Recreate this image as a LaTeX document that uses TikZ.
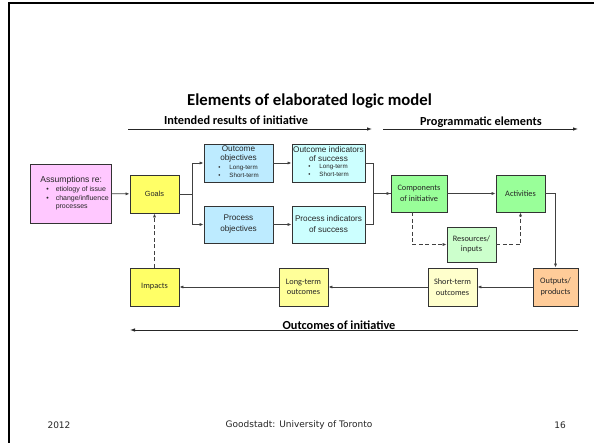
\documentclass[tikz,border=0pt]{standalone}
\usepackage{fontspec}
\newfontfamily\arial{Liberation Sans}
\newfontfamily\calibri{Carlito}
\newfontfamily\verdana{DejaVu Sans}
\usetikzlibrary{arrows.meta}
\definecolor{cpink}{HTML}{FFC8FF}
\definecolor{cyel}{HTML}{FFFF66}
\definecolor{cblue}{HTML}{BDEBFF}
\definecolor{ccyan}{HTML}{CCFFFF}
\definecolor{cgreen}{HTML}{99FF99}
\definecolor{clgreen}{HTML}{CCFFCC}
\definecolor{corange}{HTML}{FFCC99}
\definecolor{clyel}{HTML}{FFFFCC}
\definecolor{cmyel}{HTML}{FFFF99}
\tikzset{
  box/.style={draw=black!80, line width=0.9pt, inner sep=1pt, align=center, text=black!85},
  ar/.style={font=\arial\fontsize{8.2}{9.5}\selectfont},
  ca/.style={font=\calibri\fontsize{8.3}{9.5}\selectfont},
  conn/.style={draw=black!75, line width=0.8pt, -{Latex[length=4pt,width=3.2pt]}},
  dconn/.style={conn, dashed, dash pattern=on 4pt off 2.5pt},
  hdr/.style={font=\calibri\bfseries\fontsize{12.3}{14}\selectfont},
  harrow/.style={draw=black!85, line width=0.8pt, -{Latex[length=5pt,width=3.5pt]}},
  foot/.style={font=\verdana\fontsize{9}{10}\selectfont, text=black!85}
}
\newcommand{\smb}{\fontsize{7}{8}\selectfont}
\newcommand{\smbb}{\fontsize{6.2}{7.5}\selectfont}
\begin{document}
\begin{tikzpicture}[x=1pt,y=-1pt]
\useasboundingbox (0,0) rectangle (594,443);
\fill[white] (0,0) rectangle (594,443);
% slide border
\draw[line width=2pt] (9,443) -- (9,3.5) -- (594,3.5);
% title
\node[font=\calibri\bfseries\fontsize{16.7}{19}\selectfont] (title) at (309.5,101) {Elements of elaborated logic model};
\node[hdr] (h1) at (236,120) {Intended results of initiative};
\node[hdr] (h2) at (481,122) {Programmatic elements};
\coordinate (h1a) at (128,129); \coordinate (h1b) at (372,129);
\coordinate (h2a) at (383,129); \coordinate (h2b) at (578,129);
\draw[harrow] (h1a) -- (h1b);
\draw[harrow] (h2a) -- (h2b);
% boxes
\node[box, ar, fill=cpink, minimum width=81pt, minimum height=59pt] (assum) at (70.5,193.5) {%
\hspace*{8pt}\begin{tabular}{@{\hspace{6pt}}l@{\hspace{7pt}}l@{}}
\multicolumn{2}{@{}l@{}}{\fontsize{8.6}{9.5}\selectfont Assumptions re:}\\[0pt]
\smb\textbullet & \smb etiology of issue\\[-1pt]
\smb\textbullet & \smb change/influence\\[-1pt]
 & \smb processes
\end{tabular}};
\node[box, ar, fill=cyel, minimum width=49pt, minimum height=38pt] (goals) at (154.5,194) {\fontsize{7.4}{8}\selectfont Goals};
\node[box, ar, fill=cblue, minimum width=69pt, minimum height=38pt] (oobj) at (238.5,163) {%
Outcome\\objectives\\[-1pt]
\begin{tabular}{@{}l@{\hspace{9pt}}l@{}}
\smbb\textbullet & \smbb Long-term\\[-1pt]
\smbb\textbullet & \smbb Short-term
\end{tabular}};
\node[box, ar, fill=ccyan, minimum width=73pt, minimum height=38pt] (oind) at (328.5,163) {%
Outcome indicators\\of success\\[-1pt]
\begin{tabular}{@{}l@{\hspace{9pt}}l@{}}
\smbb\textbullet & \smbb Long-term\\[-1pt]
\smbb\textbullet & \smbb Short-term
\end{tabular}};
\node[box, ar, fill=cblue, minimum width=69pt, minimum height=37pt] (pobj) at (238.5,224.5) {Process\\[1.5pt]objectives};
\node[box, ar, fill=ccyan, minimum width=73pt, minimum height=37pt] (pind) at (328.5,224.5) {Process indicators\\[1.5pt]of success};
\node[box, ca, fill=cgreen, minimum width=56pt, minimum height=37pt] (comp) at (419,193.5) {Components\\[1pt]of initiative};
\node[box, ca, fill=cgreen, minimum width=49pt, minimum height=37pt] (act) at (520.5,193.5) {Activities};
\node[box, ca, fill=clgreen, minimum width=49pt, minimum height=35pt] (res) at (471.5,244.5) {Resources/\\[1pt]inputs};
\node[box, ca, fill=corange, minimum width=45pt, minimum height=38pt] (outp) at (555.5,287) {Outputs/\\[1pt]products};
\node[box, ca, fill=clyel, minimum width=49pt, minimum height=38pt] (short) at (452.5,287) {Short-term\\[1pt]outcomes};
\node[box, ca, fill=cmyel, minimum width=49pt, minimum height=38pt] (long) at (303.5,287) {Long-term\\[1pt]outcomes};
\node[box, ca, fill=cyel, minimum width=49pt, minimum height=38pt] (imp) at (154.5,287) {Impacts};
% connectors
\draw[conn] (assum) -- (goals);
\draw[conn] (goals.east) -- ++(13,0) |- (oobj.west);
\draw[conn] (goals.east) -- ++(13,0) |- (pobj.west);
\draw[conn] (oobj) -- (oind);
\draw[conn] (pobj) -- (pind);
\draw[draw=black!75, line width=0.8pt] (oind.east) -- ++(8,0) |- (comp.west);
\draw[conn] (pind.east) -- ++(8,0) |- (comp.west);
\draw[conn] (comp) -- (act);
\draw[conn] (act.east) -| (outp.north);
\draw[dconn] ([xshift=-7pt]comp.south) |- (res.west);
\draw[dconn] (res.east) -| (act.south);
\draw[conn] (outp) -- (short);
\draw[conn] (short) -- (long);
\draw[conn] (long) -- (imp);
\draw[dconn] (imp) -- (goals);
% bottom header
\coordinate (h3a) at (578,330); \coordinate (h3b) at (130,330);
\draw[harrow] (h3a) -- (h3b);
\node[hdr] (h3) at (339,325) {Outcomes of initiative};
% footer
\node[foot] (f1) at (59,425) {2012};
\node[foot] (f2) at (299,425) {Goodstadt: University of Toronto};
\node[foot] (f3) at (560,425) {16};
\end{tikzpicture}
\end{document}
